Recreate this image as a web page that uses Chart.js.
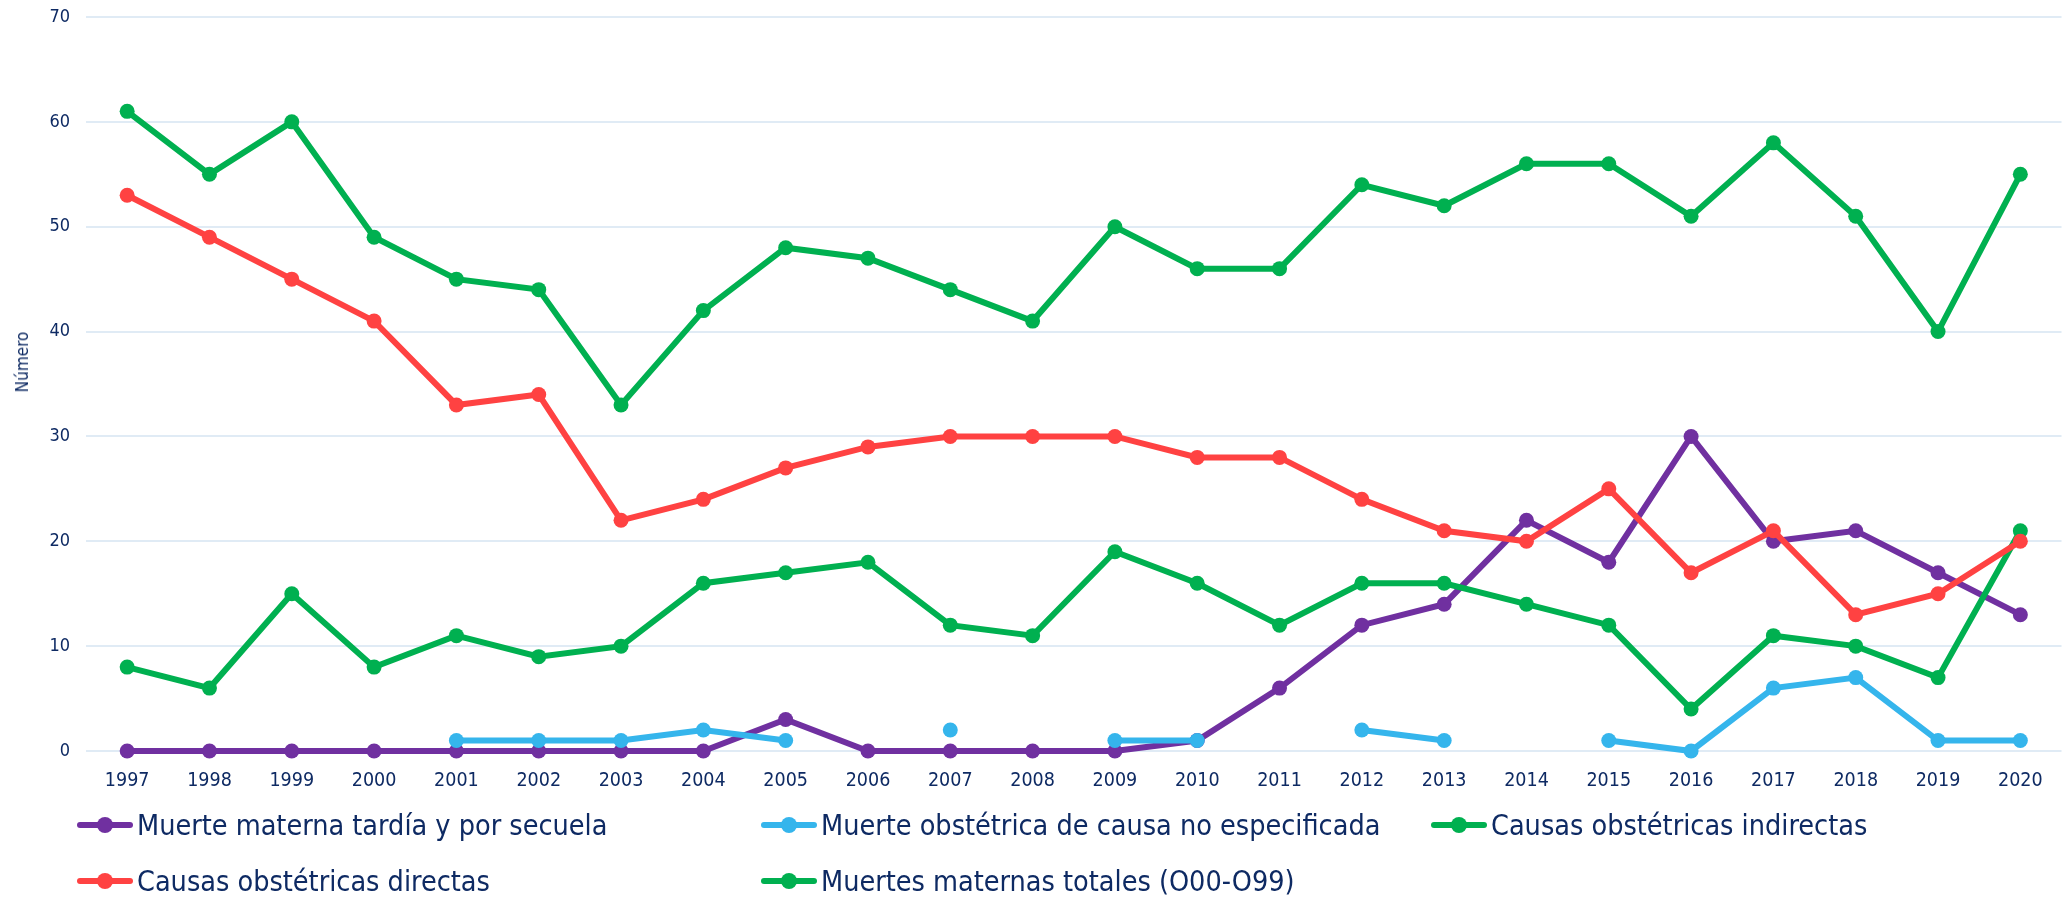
<!DOCTYPE html>
<html><head><meta charset="utf-8">
<script src="https://cdn.jsdelivr.net/npm/chart.js@4/dist/chart.umd.min.js"></script>
<style>
html,body{margin:0;padding:0;background:#fff;overflow:hidden}
#wrap{position:relative;width:2069px;height:898px}
canvas{display:block}
#legend{position:absolute;left:77px;top:797px;display:grid;grid-template-columns:684px 670px auto;grid-auto-rows:56px;font-family:"DejaVu Sans Condensed","DejaVu Sans",sans-serif;font-size:28.5px;color:#0E2A63}
.item{display:flex;align-items:center;white-space:nowrap}
.mk{position:relative;width:56px;height:16px;margin-right:4px;flex:none}
.mk .ln{position:absolute;left:0;right:0;top:5px;height:6px;border-radius:3px}
.mk .dt{position:absolute;left:20px;top:0;width:16px;height:16px;border-radius:50%}
#ytitle{position:absolute;left:22px;top:362px;transform:translate(-50%,-50%) rotate(-90deg);font-family:"DejaVu Sans Condensed","DejaVu Sans",sans-serif;font-size:17px;color:#0E2A63;white-space:nowrap}
</style>
</head><body>
<div id="wrap"><canvas id="c" width="2069" height="898"></canvas><div id="ytitle"></div><div id="legend"></div></div>
<script>
const years = ['1997','1998','1999','2000','2001','2002','2003','2004','2005','2006','2007','2008','2009','2010','2011','2012','2013','2014','2015','2016','2017','2018','2019','2020'];
const tardia = [0,0,0,0,0,0,0,0,3,0,0,0,0,1,6,12,14,22,18,30,20,21,17,13];
const noEspecificada = [null,null,null,null,1,1,1,2,1,null,2,null,1,1,null,2,1,null,1,0,6,7,1,1];
const indirectas = [8,6,15,8,11,9,10,16,17,18,12,11,19,16,12,16,16,14,12,4,11,10,7,21];
const directas = [53,49,45,41,33,34,22,24,27,29,30,30,30,28,28,24,21,20,25,17,21,13,15,20];
const totales = [61,55,60,49,45,44,33,42,48,47,44,41,50,46,46,54,52,56,56,51,58,51,40,55];
const seriesNames = ['Muerte materna tardía y por secuela','Muerte obstétrica de causa no especificada','Causas obstétricas indirectas','Causas obstétricas directas','Muertes maternas totales (O00-O99)'];
const yTicks = [0,10,20,30,40,50,60,70];
const yTitle = 'Número';
const colors = ['#7030A0','#35B5EC','#00B050','#FF4242','#00B050'];
const values = [tardia,noEspecificada,indirectas,directas,totales];

const FONT = '"DejaVu Sans Condensed","DejaVu Sans",sans-serif';
const TXT = '#0E2A63';

const datasets = values.map((v,i)=>({
  label: seriesNames[i], data: v,
  borderColor: colors[i], backgroundColor: colors[i],
  pointBackgroundColor: colors[i], pointBorderWidth: 0,
  pointRadius: 7.5, borderWidth: 6, tension: 0, spanGaps: false,
  clip: false,
  order: values.length - i
}));

const chart = new Chart(document.getElementById('c'), {
  type: 'line',
  data: { labels: years, datasets },
  options: {
    responsive: false, animation: false, devicePixelRatio: 1,
    layout: { padding: { top: 17, right: -3, bottom: 97, left: 0 } },
    plugins: { legend: { display: false }, tooltip: { enabled: false } },
    scales: {
      x: {
        offset: true,
        grid: { display: false, drawTicks: false },
        border: { display: false },
        ticks: { color: TXT, font: { family: FONT, size: 19.5 }, padding: 18, maxRotation: 0, autoSkip: false },
        afterFit: s => { s.height = 50; s.paddingLeft = 0; s.paddingRight = 0; }
      },
      y: {
        min: 0, max: 70,
        afterBuildTicks: s => { s.ticks = yTicks.map(v => ({ value: v })); },
        grid: { color: '#E0EBF5', lineWidth: 2, drawTicks: false },
        border: { display: false },
        ticks: { color: TXT, font: { family: FONT, size: 18 }, padding: 16 },
        afterFit: s => { s.width = 86; s.paddingTop = 0; s.paddingBottom = 0; }
      }
    }
  }
});

document.getElementById('ytitle').textContent = yTitle;
const leg = document.getElementById('legend');
chart.data.datasets.forEach(ds => {
  const it = document.createElement('div'); it.className = 'item';
  const mk = document.createElement('span'); mk.className = 'mk';
  mk.innerHTML = '<span class="ln" style="background:' + ds.borderColor + '"></span><span class="dt" style="background:' + ds.borderColor + '"></span>';
  const t = document.createElement('span'); t.textContent = ds.label;
  it.appendChild(mk); it.appendChild(t); leg.appendChild(it);
});
</script>
</body></html>
